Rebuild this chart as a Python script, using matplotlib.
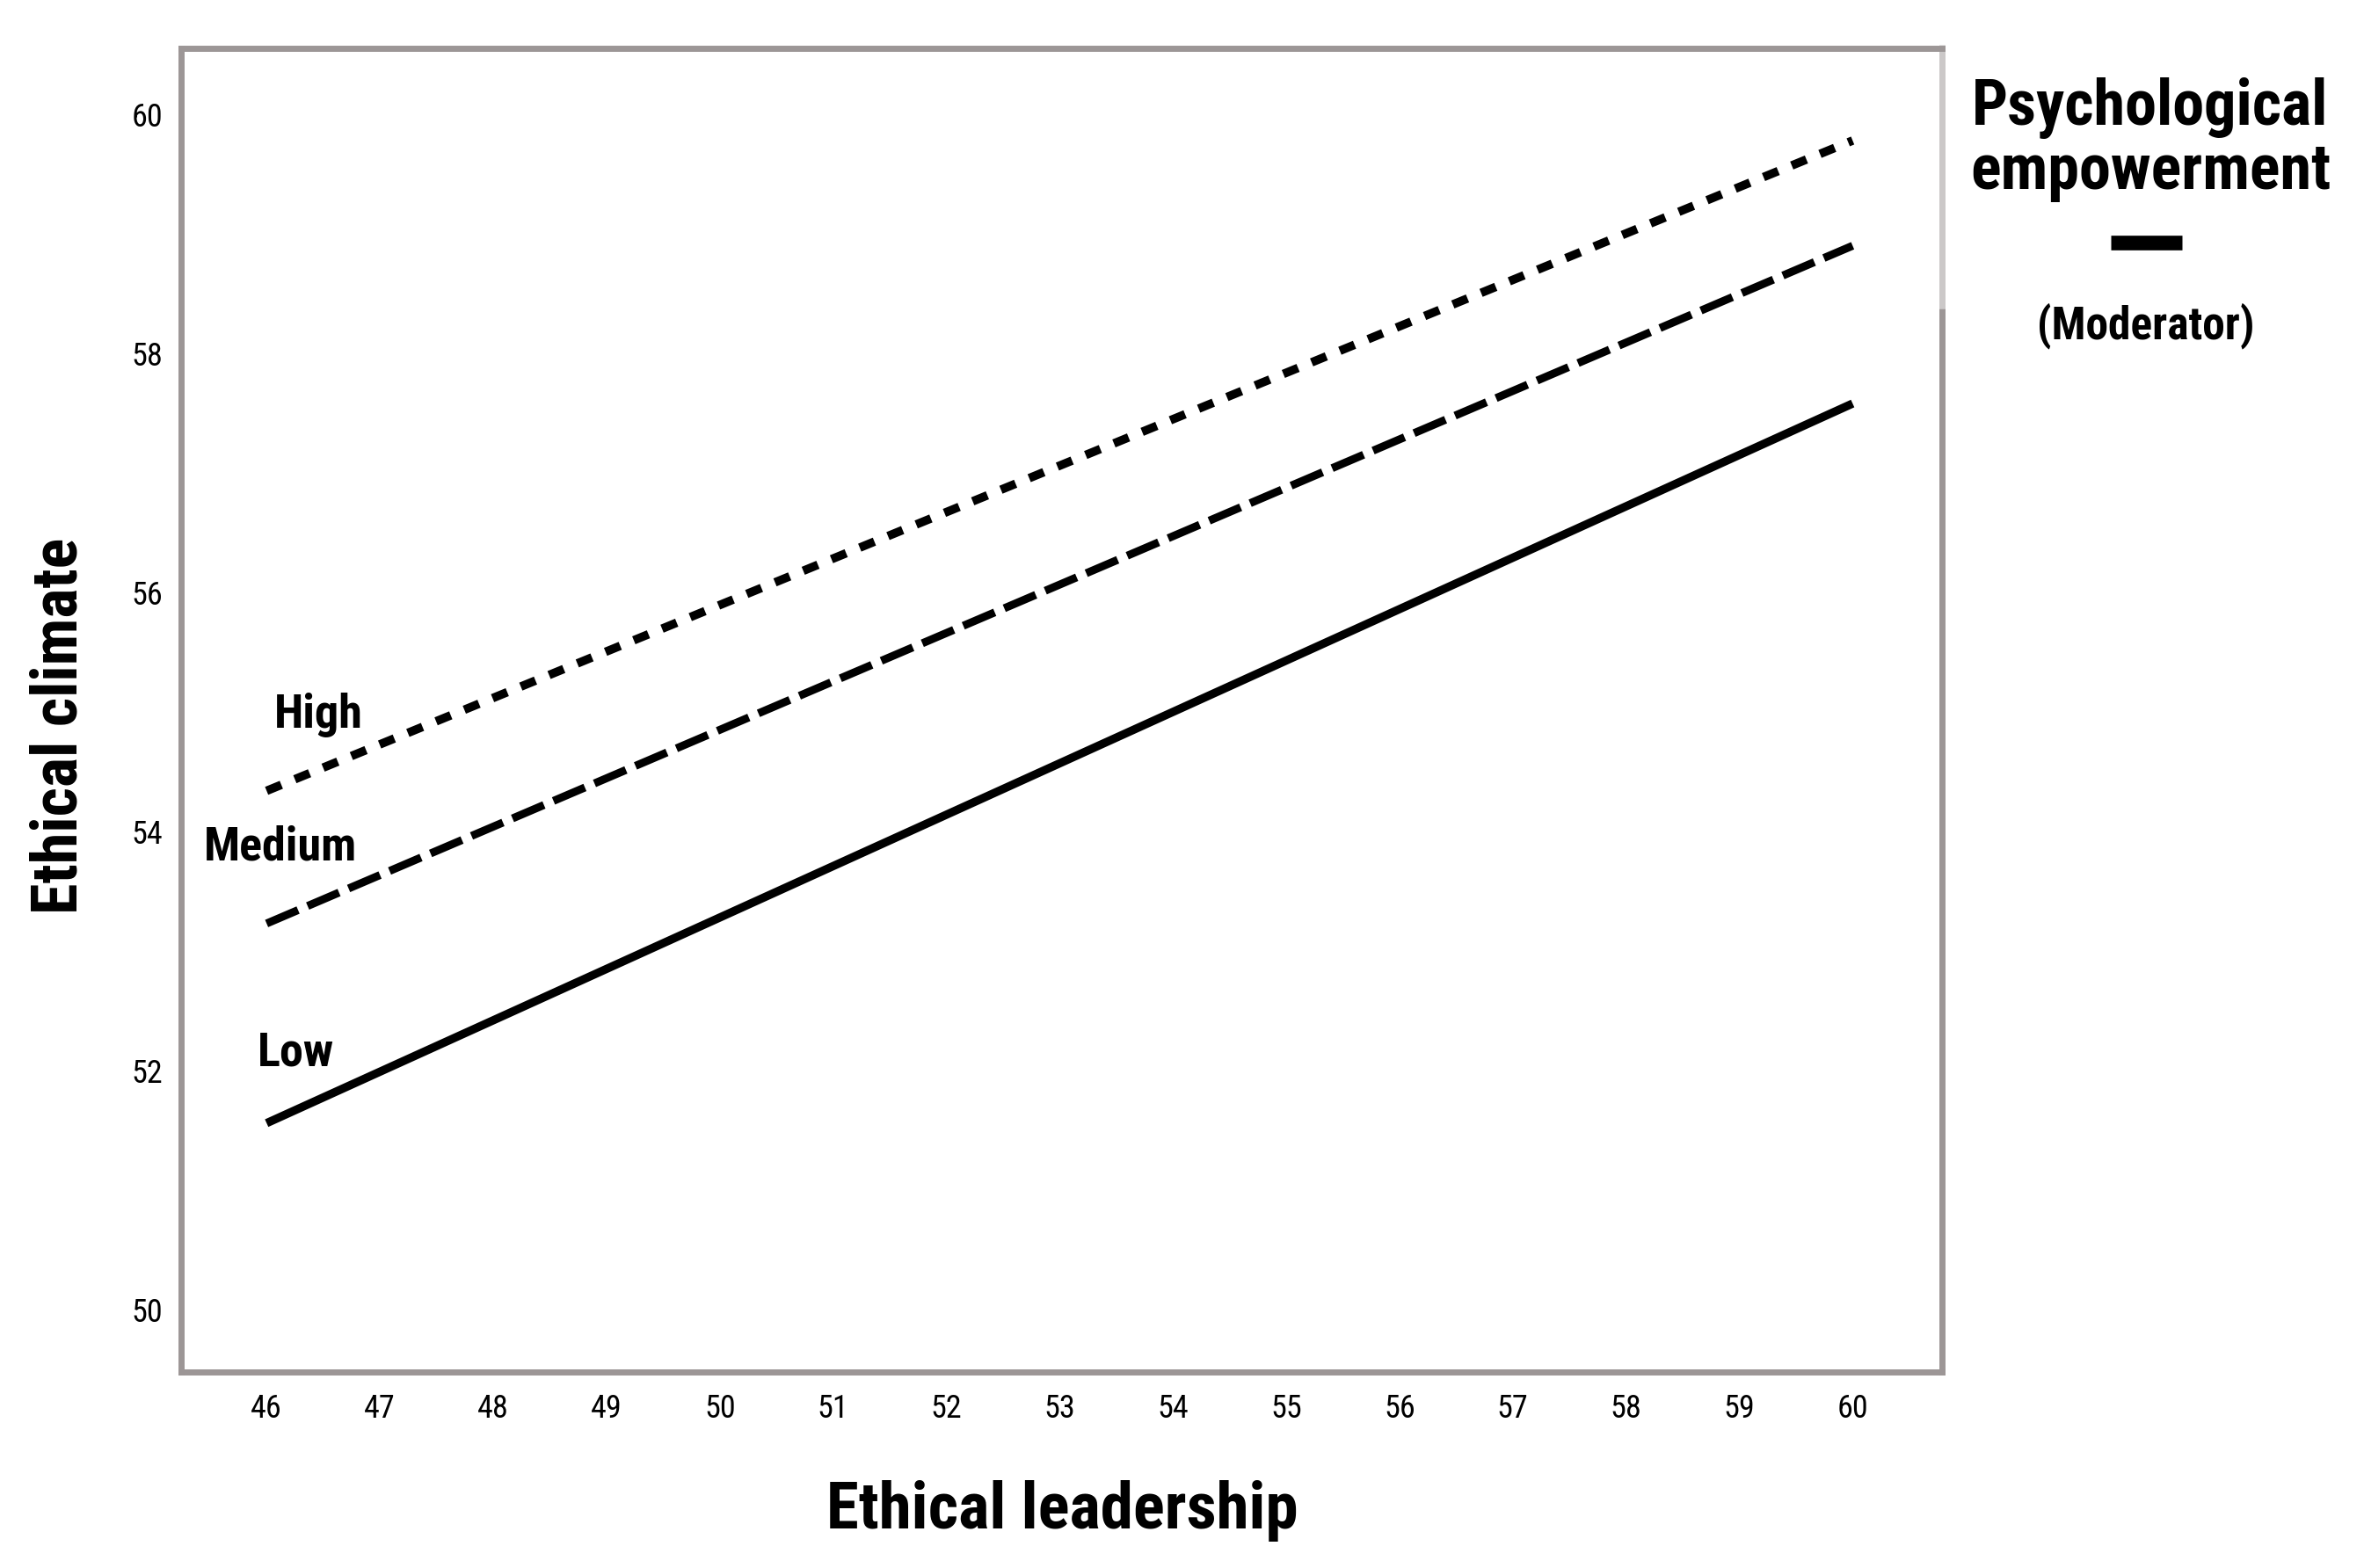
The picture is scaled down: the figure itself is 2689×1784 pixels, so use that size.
import matplotlib
matplotlib.use("Agg")
import matplotlib.pyplot as plt
from matplotlib import font_manager
from matplotlib.lines import Line2D

# ---- data ----
x_values = [46, 60]
high_values = [54.34, 59.78]
medium_values = [53.23, 58.90]
low_values = [51.56, 57.58]
x_ticks = list(range(46, 61))
y_ticks = [50, 52, 54, 56, 58, 60]
series_labels = ["High", "Medium", "Low"]
x_label = "Ethical leadership"
y_label = "Ethical climate"
legend_title = ["Psychological", "empowerment"]
legend_sub = "(Moderator)"

# ---- fonts: look for a condensed / narrow sans ----
cond_stretch = {"condensed", "semi-condensed", "extra-condensed", "ultra-condensed"}
cands = []
for f in font_manager.fontManager.ttflist:
    st = str(f.stretch)
    if ("Narrow" in f.name or "Condensed" in f.name or st in cond_stretch
            or (isinstance(f.stretch, int) and f.stretch < 500)):
        cands.append((f.name, f.stretch))
pref = ["Liberation Sans Narrow", "Arial Narrow", "Roboto Condensed",
        "Open Sans Condensed", "Noto Sans Condensed", "Noto Sans",
        "Open Sans", "DejaVu Sans Condensed", "DejaVu Sans"]
chosen = None
for p in pref:
    for n, st in cands:
        if n == p:
            chosen = (n, st)
            break
    if chosen:
        break
if chosen is None and cands:
    chosen = cands[0]
if chosen is None:
    fam_name, stretch = "DejaVu Sans", "normal"
    condensed = False
else:
    fam_name, stretch = chosen
    condensed = True
plt.rcParams["font.family"] = [fam_name, "DejaVu Sans"]
plt.rcParams["font.stretch"] = stretch
plt.rcParams["lines.scale_dashes"] = False
k = 1.0 if condensed else 0.85  # shrink wide fallback

W, H = 2689, 1784
fig = plt.figure(figsize=(W / 100, H / 100), dpi=100)
fig.patch.set_facecolor("white")

L, R, T, B = 206, 2209, 54.5, 1561
ax = fig.add_axes([L / W, 1 - B / H, (R - L) / W, (B - T) / H])
ax.set_xlim(45.245, 60.789)
ax.set_ylim(49.478, 60.555)

ax.plot(x_values, high_values, color="black", lw=7, linestyle=(0, (13, 12)),
        dash_capstyle="butt", solid_capstyle="butt")
ax.plot(x_values, medium_values, color="black", lw=6.5, linestyle=(0, (28, 8.5)),
        dash_capstyle="butt", solid_capstyle="butt")
ax.plot(x_values, low_values, color="black", lw=6.8, linestyle="-",
        solid_capstyle="butt")

lab_pos = {"High": (46.46, 54.87), "Medium": (46.12, 53.76), "Low": (46.26, 52.04)}
for name in series_labels:
    xx, yy = lab_pos[name]
    ax.text(xx, yy, name, ha="center", va="baseline", fontsize=39 * k,
            fontweight="bold", color="black", fontstretch=stretch)

ax.set_xticks(x_ticks)
ax.set_yticks(y_ticks)
ax.tick_params(axis="both", length=0, labelsize=26 * k, colors="black")
ax.tick_params(axis="y", pad=15)
ax.tick_params(axis="x", pad=17)

spine_col = "#9c9696"
for s in ["left", "bottom", "top"]:
    ax.spines[s].set_color(spine_col)
    ax.spines[s].set_linewidth(5)
ax.spines["right"].set_visible(False)
split = 0.803
ax.add_line(Line2D([1, 1], [split, 1.002], transform=ax.transAxes, color="#cbc8c8",
                   lw=5, clip_on=False, solid_capstyle="butt"))
ax.add_line(Line2D([1, 1], [-0.002, split], transform=ax.transAxes, color=spine_col,
                   lw=5, clip_on=False, solid_capstyle="butt"))

ax.set_xlabel(x_label, fontsize=54 * k, fontweight="bold", fontstretch=stretch)
ax.xaxis.label.set_va("baseline")
ax.xaxis.set_label_coords((1208 - L) / (R - L), (B - 1739) / (B - T))
ax.set_ylabel(y_label, fontsize=52 * k, fontweight="bold", fontstretch=stretch)
ax.yaxis.label.set_va("center")
ax.yaxis.label.set_ha("center")
ax.yaxis.set_label_coords((68 - L) / (R - L), (B - 826) / (B - T))

cx = 2446 / W
kk = 1.0 if condensed else 0.72
fig.text(cx, 1 - 142 / H, legend_title[0], ha="center", va="baseline",
         fontsize=52 * kk, fontweight="bold", fontstretch=stretch)
fig.text(cx, 1 - 215 / H, legend_title[1], ha="center", va="baseline",
         fontsize=52 * kk, fontweight="bold", fontstretch=stretch)
fig.add_artist(Line2D([2401 / W, 2482 / W], [1 - 276 / H, 1 - 276 / H],
                      transform=fig.transFigure, color="black", lw=12,
                      solid_capstyle="butt"))
fig.text(2441 / W, 1 - 385 / H, legend_sub, ha="center", va="baseline",
         fontsize=37 * kk, fontweight="bold", fontstretch=stretch)

fig.savefig("out.png", dpi=100, facecolor="white")
